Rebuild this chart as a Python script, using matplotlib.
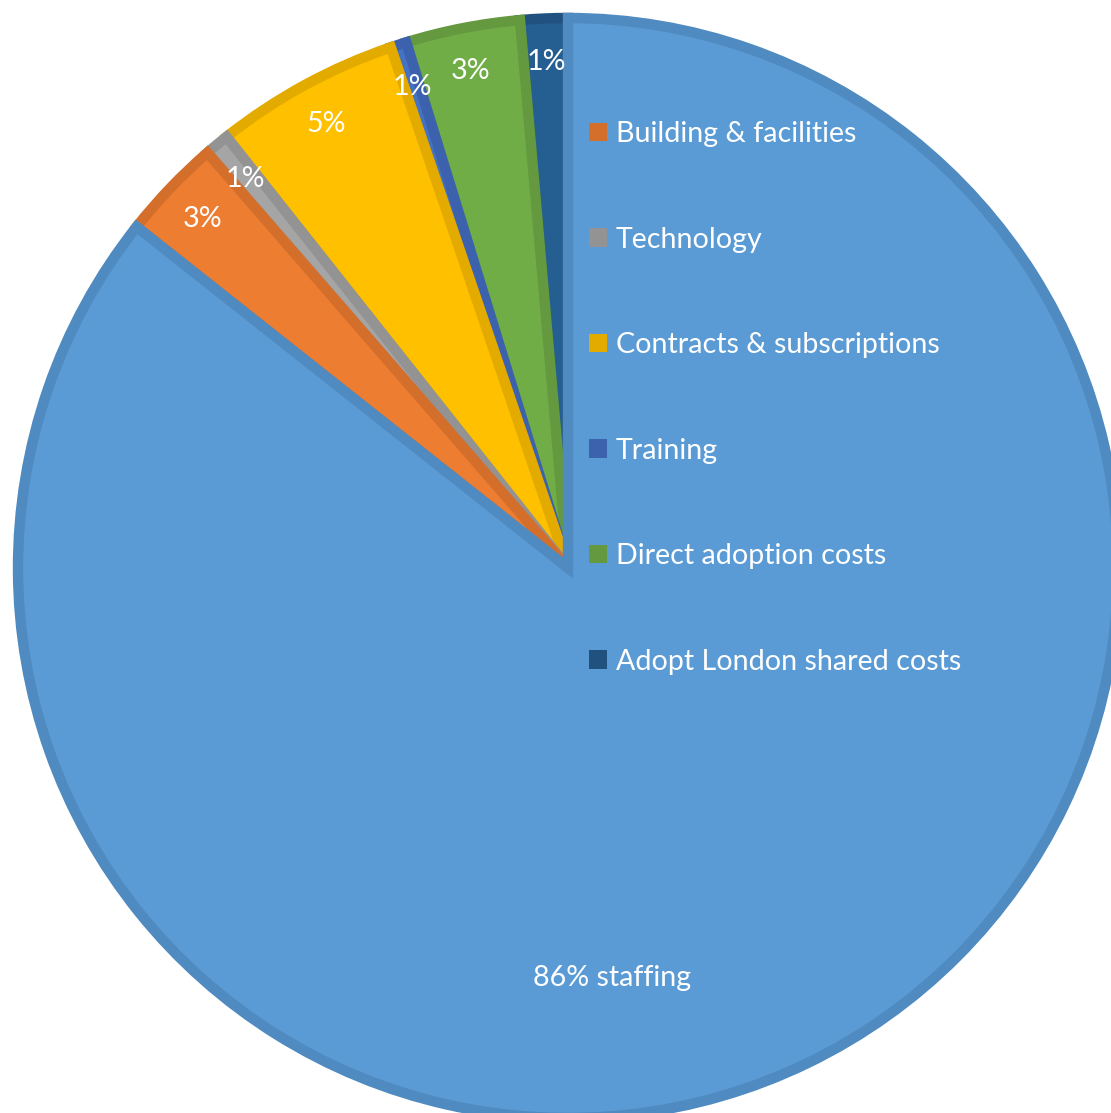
import matplotlib
matplotlib.use('Agg')
import matplotlib.pyplot as plt
from matplotlib.patches import Patch
import numpy as np

categories = ["Adopt London shared costs", "Direct adoption costs", "Training",
              "Contracts & subscriptions", "Technology", "Building & facilities", "Staffing"]
values = [1.39, 3.36, 0.47, 5.44, 0.72, 2.97, 85.65]
labels = ["1%", "3%", "1%", "5%", "1%", "3%", "86% staffing"]
legend_order = ["Building & facilities", "Technology", "Contracts & subscriptions",
                "Training", "Direct adoption costs", "Adopt London shared costs"]

face = ["#255E91", "#70AD47", "#4472C4", "#FFC000", "#A5A5A5", "#ED7D31", "#5B9BD5"]
edge = ["#21527F", "#64993F", "#3C62AD", "#E3AB00", "#939393", "#D36F2B", "#4F8AC0"]

plt.rcParams['font.family'] = ['Lato', 'DejaVu Sans']

W, H = 1111, 1113
fig = plt.figure(figsize=(W / 100, H / 100), dpi=100)
ax = fig.add_axes([0, 0, 1, 1])
R = 550.0
cx, cy = 568, 568

wedges, _ = ax.pie(values, startangle=90, counterclock=True, colors=face, radius=1)
for w, ec in zip(wedges, edge):
    w.set_edgecolor(ec)
    w.set_linewidth(7.5)
    w.set_clip_path(w)

ax.set_aspect('auto')
ax.set_xlim(-cx / R, (W - cx) / R)
ax.set_ylim(-(H - cy) / R, cy / R)
ax.axis('off')

fs = 20.6
for i, w in enumerate(wedges[:-1]):
    th = np.deg2rad((w.theta1 + w.theta2) / 2)
    ax.text(0.92 * np.cos(th), 0.92 * np.sin(th), labels[i], ha='center', va='center',
            color='white', fontsize=fs)
ax.text(0.08, -0.745, labels[-1], ha='center', va='center', color='white', fontsize=fs)

handles = [Patch(facecolor=edge[categories.index(n)], edgecolor='none') for n in legend_order]
ax.legend(handles, legend_order, loc='upper left', bbox_to_anchor=(589 / W, 1 - 121 / H),
          bbox_transform=fig.transFigure, frameon=False, labelcolor='white', fontsize=fs,
          handlelength=0.63, handleheight=0.63, handletextpad=0.3, labelspacing=2.78,
          borderpad=0, borderaxespad=0)

fig.savefig('out.png', dpi=100)
